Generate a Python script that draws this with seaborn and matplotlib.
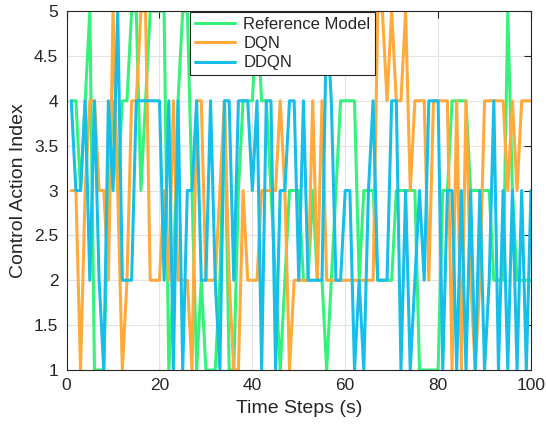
import numpy as np
import pandas as pd
import matplotlib
matplotlib.use("Agg")
import matplotlib.pyplot as plt
import seaborn as sns

steps = list(range(1, 101))

ref_model = [4, 4, 3, 4, 5, 1, 1, 1, 3, 4,
             3, 4, 4, 5, 5, 3, 4, 5, 5, 5,
             5, 1, 2, 4, 5, 5, 3, 1, 2, 1,
             1, 1, 2, 4, 1, 1, 3, 4, 4, 4,
             5, 4, 4, 3, 2, 1, 2, 3, 3, 3,
             2, 2, 3, 2, 2, 1, 2, 3, 4, 4,
             4, 4, 2, 3, 3, 3, 2, 2, 2, 2,
             3, 3, 3, 3, 3, 1, 1, 1, 1, 1,
             3, 3, 4, 4, 4, 4, 3, 3, 3, 3,
             3, 2, 2, 2, 5, 3, 2, 2, 2, 2]

dqn = [3, 3, 1, 3, 4, 4, 3, 3, 2, 5,
       3, 1, 2, 4, 4, 5, 5, 2, 2, 2,
       3, 2, 4, 2, 2, 2, 1, 4, 4, 2,
       2, 2, 3, 4, 2, 1, 1, 3, 2, 2,
       2, 3, 3, 3, 3, 4, 3, 1, 2, 2,
       2, 2, 4, 2, 4, 2, 2, 2, 2, 2,
       2, 2, 2, 2, 2, 2, 5, 5, 4, 5,
       4, 4, 5, 3, 4, 4, 4, 2, 4, 4,
       4, 4, 1, 4, 1, 4, 2, 1, 2, 4,
       4, 4, 4, 4, 3, 4, 3, 4, 4, 4]

ddqn = [4, 3, 3, 4, 2, 4, 2, 1, 4, 3,
        5, 2, 2, 2, 4, 4, 4, 4, 4, 4,
        2, 4, 1, 4, 1, 3, 3, 4, 2, 2,
        4, 2, 1, 4, 4, 2, 4, 4, 4, 3,
        4, 1, 4, 4, 1, 3, 3, 4, 4, 2,
        4, 2, 2, 2, 2, 5, 4, 2, 2, 3,
        3, 1, 2, 1, 3, 4, 2, 2, 2, 4,
        4, 1, 3, 1, 2, 3, 2, 4, 4, 4,
        1, 3, 3, 1, 3, 1, 3, 1, 3, 1,
        2, 4, 1, 3, 1, 3, 1, 3, 1, 3]

models = ["Reference Model", "DQN", "DDQN"]
colors = ["#35F27A", "#FFAA3B", "#17BEE8"]

df = pd.DataFrame({
    "step": steps * 3,
    "action": ref_model + dqn + ddqn,
    "model": [models[0]] * 100 + [models[1]] * 100 + [models[2]] * 100,
})

sns.set_style("white")
plt.rcParams["font.family"] = ["Liberation Sans", "DejaVu Sans"]

fig, ax = plt.subplots(figsize=(5.46, 4.26), dpi=100)
fig.subplots_adjust(left=0.122, right=0.9725, bottom=0.1315, top=0.974)

sns.lineplot(data=df, x="step", y="action", hue="model", hue_order=models,
             palette=colors, linewidth=2.2, ax=ax)

ax.set_xlim(0, 100)
ax.set_ylim(1, 5)
ax.set_xticks(np.arange(0, 101, 20))
yt = np.arange(1, 5.01, 0.5)
ax.set_yticks(yt)
ax.set_yticklabels(["%g" % v for v in yt])
ax.grid(True, color="#E3E3E3", linewidth=0.8)
ax.set_axisbelow(True)
for s in ax.spines.values():
    s.set_color("#262626")
    s.set_linewidth(0.8)
ax.tick_params(direction="in", top=True, right=True, length=5, width=0.8,
               colors="#262626", labelsize=12.5)
ax.tick_params(axis="x", pad=6)
ax.tick_params(axis="y", pad=6)
ax.set_xlabel("Time Steps (s)", fontsize=14, color="#262626", labelpad=5)
ax.set_ylabel("Control Action Index", fontsize=14, color="#262626", labelpad=5)

leg = ax.legend(loc="upper left", bbox_to_anchor=(0.2656, 0.997), borderaxespad=0,
                fontsize=12, frameon=True, fancybox=False, framealpha=1,
                edgecolor="#262626", handlelength=2.4, labelspacing=0.25,
                borderpad=0.3, handletextpad=0.5)
leg.get_frame().set_linewidth(0.8)

fig.savefig("out.png", dpi=100)
